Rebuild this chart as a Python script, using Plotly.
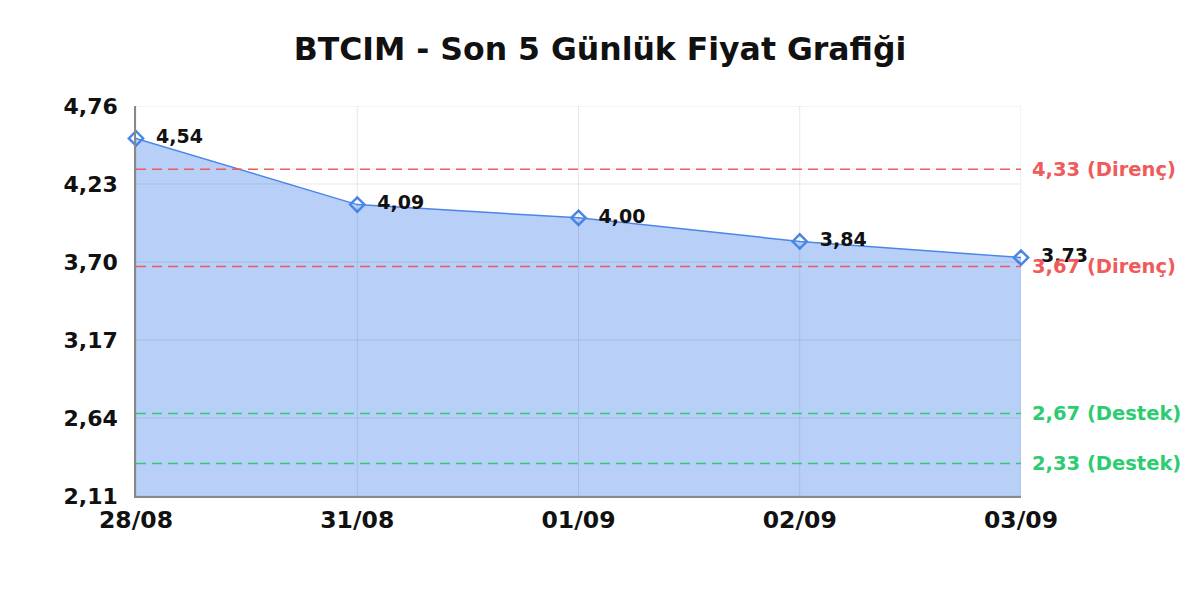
import plotly.graph_objects as go

dates = ["28/08", "31/08", "01/09", "02/09", "03/09"]
prices = [4.54, 4.09, 4.00, 3.84, 3.73]

resistance = [4.33, 3.67]
support = [2.67, 2.33]

y_ticks = [2.11, 2.64, 3.17, 3.70, 4.23, 4.76]
y_tick_labels = ["2,11", "2,64", "3,17", "3,70", "4,23", "4,76"]

FONT = "DejaVu Sans"
RED = "#f05a5a"
GREEN = "#2ecc71"
BLUE = "#4a86e8"
GRID = "rgba(0,0,0,0.09)"


def tr(v):
    return f"{v:.2f}".replace(".", ",")


fig = go.Figure()
fig.add_trace(
    go.Scatter(
        x=dates,
        y=prices,
        mode="lines+markers+text",
        line=dict(color=BLUE, width=1.5),
        fill="tozeroy",
        fillcolor="#b8d0f8",
        marker=dict(symbol="diamond-open", size=11, color=BLUE, line=dict(width=2.5)),
        text=["  <b>" + tr(p) + "</b>" for p in prices],
        textposition="middle right",
        textfont=dict(family=FONT, size=19, color="#111111"),
        cliponaxis=False,
        showlegend=False,
    )
)

# grid drawn on top of the filled area, like the original
for t in y_ticks:
    fig.add_hline(y=t, line=dict(color=GRID, width=1), layer="above")
for d in dates:
    fig.add_vline(x=d, line=dict(color=GRID, width=1), layer="above")

# support / resistance lines
for lvl in resistance:
    fig.add_hline(y=lvl, line=dict(color=RED, width=1.5, dash="10px,6px"))
    fig.add_annotation(
        x=1, xref="paper", y=lvl, yref="y", xanchor="left", xshift=9,
        text="<b>" + tr(lvl) + " (Direnç)</b>",
        showarrow=False, font=dict(family=FONT, size=19.5, color=RED),
    )
for lvl in support:
    fig.add_hline(y=lvl, line=dict(color=GREEN, width=1.5, dash="10px,6px"))
    fig.add_annotation(
        x=1, xref="paper", y=lvl, yref="y", xanchor="left", xshift=9,
        text="<b>" + tr(lvl) + " (Destek)</b>",
        showarrow=False, font=dict(family=FONT, size=19.5, color=GREEN),
    )

fig.update_layout(
    width=1200,
    height=600,
    title=dict(
        text="<b>BTCIM - Son 5 Günlük Fiyat Grafiği</b>",
        x=0.4933, y=0.932, xanchor="center", yanchor="middle",
        font=dict(family=FONT, size=31.5, color="#111111"),
    ),
    font=dict(family=FONT, color="#111111"),
    plot_bgcolor="white",
    paper_bgcolor="white",
    margin=dict(l=128, r=187, t=98, b=112),
)
fig.update_xaxes(
    type="category",
    range=[0, len(dates) - 1],
    showgrid=False,
    showline=True, linecolor="#888888", linewidth=1.5,
    ticks="", tickfont=dict(family=FONT, size=23.5, color="#111111"),
    tickprefix="<b>", ticksuffix="</b>",
    ticklabelstandoff=2,
)
fig.update_yaxes(
    range=[2.11, 4.76],
    tickvals=y_ticks,
    ticktext=[f"<b>{t}</b>" for t in y_tick_labels],
    showgrid=False,
    showline=True, linecolor="#888888", linewidth=1.5,
    zeroline=False,
    tickfont=dict(family=FONT, size=22, color="#111111"),
    ticklabelstandoff=12,
)

fig.write_html("out.html")
